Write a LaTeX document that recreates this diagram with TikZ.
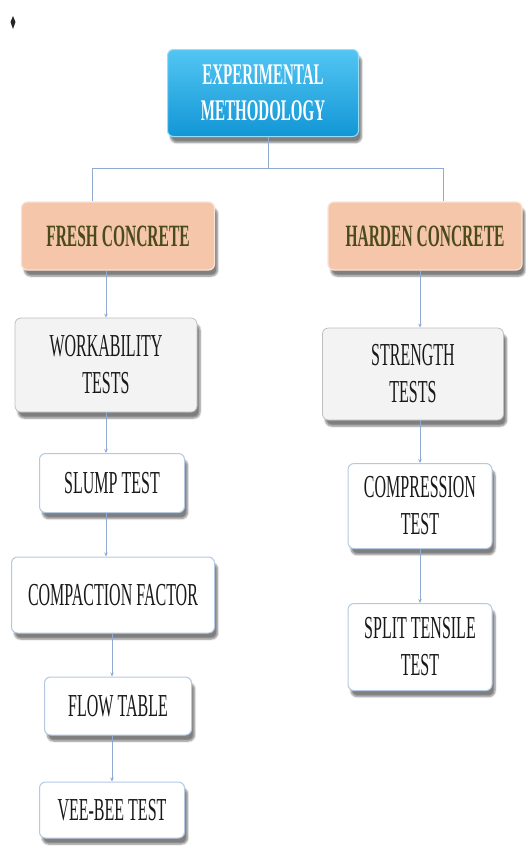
\documentclass[tikz,border=0pt]{standalone}
\usepackage{fontspec}
\setmainfont{Liberation Serif}[FakeStretch=0.5]
\usetikzlibrary{shadows.blur,arrows.meta}
\definecolor{linec}{HTML}{8FABD2}
\definecolor{bluebd}{HTML}{B4C8E2}
\definecolor{peach}{HTML}{F6C6AA}
\definecolor{olive}{HTML}{4A4A1A}
\definecolor{grayf}{HTML}{F3F3F3}
\definecolor{topa}{HTML}{52C6F3}
\definecolor{topb}{HTML}{1296D6}
\tikzset{
  base/.style={rectangle, rounded corners=6pt, align=center, inner sep=2pt,
    font=\fontsize{32}{37}\selectfont, text=black!90,
    blur shadow={shadow blur steps=6, shadow xshift=3pt, shadow yshift=-6pt, shadow opacity=50}},
  topbox/.style={base, top color=topa, bottom color=topb, draw=topa!60!white, line width=1pt,
    text=white, font=\fontsize{30}{36}\selectfont\bfseries},
  peachbox/.style={base, fill=peach, draw=peach!50!white, line width=1.2pt,
    text=olive, font=\fontsize{31}{36}\selectfont\bfseries},
  graybox/.style={base, fill=grayf, draw=black!25, line width=0.8pt},
  whitebox/.style={base, fill=white, draw=bluebd, line width=1pt},
  conn/.style={draw=linec, line width=0.8pt},
  arr/.style={conn, -{Stealth[length=4pt,width=3.5pt]}}
}
\begin{document}
\begin{tikzpicture}[x=1pt,y=-1pt]
\useasboundingbox (0,0) rectangle (526,868);
\fill[black!85] (13,16) -- (15.5,22) -- (13,29) -- (10.5,22) -- cycle;
\node[topbox, minimum width=191pt, minimum height=87pt] (top) at (263,93) {EXPERIMENTAL\\METHODOLOGY};
\node[peachbox, minimum width=193pt, minimum height=68pt] (fresh) at (118,236) {FRESH CONCRETE};
\node[peachbox, minimum width=194pt, minimum height=68pt] (harden) at (425,236) {HARDEN CONCRETE};
\node[graybox, minimum width=182pt, minimum height=94pt] (work) at (106,365) {WORKABILITY\\TESTS};
\node[graybox, minimum width=181pt, minimum height=92pt] (strength) at (413,374) {STRENGTH\\TESTS};
\node[whitebox, minimum width=145pt, minimum height=59pt] (slump) at (112,483) {SLUMP TEST};
\node[whitebox, minimum width=203pt, minimum height=76pt] (compaction) at (113,595) {COMPACTION FACTOR};
\node[whitebox, minimum width=147pt, minimum height=58pt] (flow) at (118,706) {FLOW TABLE};
\node[whitebox, minimum width=145pt, minimum height=56pt] (veebee) at (112,810) {VEE-BEE TEST};
\node[whitebox, minimum width=144pt, minimum height=85pt] (compression) at (420,506) {COMPRESSION\\TEST};
\node[whitebox, minimum width=144pt, minimum height=87pt] (split) at (420,647) {SPLIT TENSILE\\TEST};
\coordinate (jl) at (92,168);
\coordinate (jr) at (443,168);
\draw[conn] ([xshift=5pt]top.south) |- (jl) -- (jl |- fresh.north);
\draw[conn] ([xshift=5pt]top.south) |- (jr) -- (jr |- harden.north);
\draw[arr] (fresh.south -| work) -- (work.north);
\draw[arr] (work.south) -- (slump.north -| work);
\draw[arr] (slump.south -| work) -- (compaction.north -| work);
\draw[arr] (compaction.south -| slump) -- (flow.north -| slump);
\draw[arr] (flow.south -| veebee) -- (veebee.north);
\draw[arr] (harden.south -| compression) -- (strength.north -| compression);
\draw[arr] (strength.south -| compression) -- (compression.north);
\draw[arr] (compression.south) -- (split.north);
\end{tikzpicture}
\end{document}
